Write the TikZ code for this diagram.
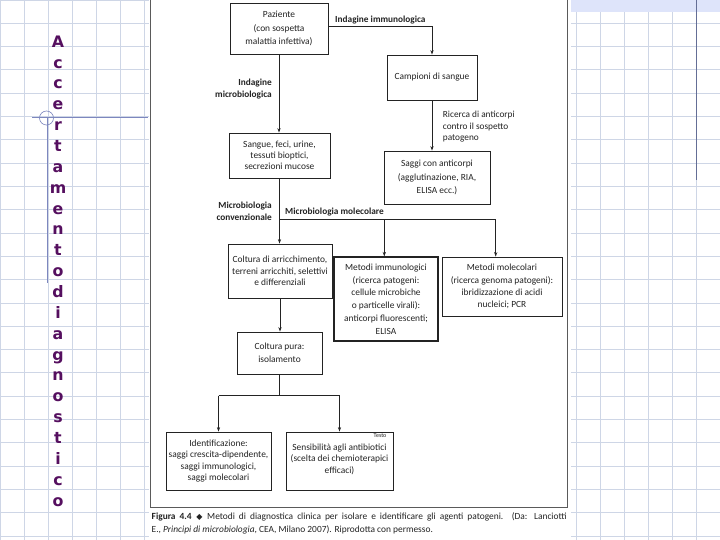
\documentclass[tikz,border=0pt]{standalone}
\usepackage{fontspec}
\setmainfont{Carlito}
\newfontfamily\dejavu{DejaVu Sans}
\usetikzlibrary{arrows.meta}
\definecolor{gridc}{RGB}{206,214,230}
\definecolor{deco}{RGB}{125,135,190}
\definecolor{decodark}{RGB}{100,110,150}
\definecolor{band}{RGB}{222,228,250}
\definecolor{purp}{RGB}{85,15,95}
\definecolor{ink}{RGB}{35,35,35}
\definecolor{framec}{RGB}{90,90,90}
\tikzset{
  box/.style={draw=ink, line width=0.8bp, align=center, inner sep=0pt, text=ink},
  lsp/.style={font=\fontsize{9.4bp}{#1}\selectfont},
  lbl/.style={inner sep=0pt, text=ink, font=\fontsize{9.3bp}{12bp}\selectfont\bfseries},
  lblr/.style={inner sep=0pt, text=ink, align=left, font=\fontsize{9.3bp}{11.7bp}\selectfont},
  conn/.style={draw=ink, line width=0.8bp},
  arr/.style={conn, -{Stealth[length=4.5bp,width=3.2bp]}},
  letter/.style={inner sep=0pt, anchor=base, text=purp, font=\dejavu\bfseries\fontsize{15.8bp}{16bp}\selectfont},
  captext/.style={inner sep=0pt, text=ink, font=\fontsize{9.4bp}{11bp}\selectfont}
}
\begin{document}
\begin{tikzpicture}[x=1bp,y=-1bp]
\useasboundingbox (0,0) rectangle (720,540);
\fill[white] (0,0) rectangle (720,540);
% graph paper
\foreach \i in {0,...,30} \draw[gridc, line width=0.8bp] (\i*24,0) -- (\i*24,540);
\foreach \j in {0,...,23} \draw[gridc, line width=0.8bp] (0,\j*23.3) -- (720,\j*23.3);
% top right band and line
\fill[band] (571,0) rectangle (720,12);
\draw[decodark, line width=0.8bp] (696.7,0) -- (696.7,180);
% figure area
\fill[white] (149,0) rectangle (571,540);
\draw[framec, line width=0.9bp] (150,0) -- (150,507) -- (567,507) -- (567,0);
% left decoration
\draw[deco, line width=0.8bp] (32,117.5) -- (148,117.5);
\draw[deco, line width=0.8bp] (47,117.5) -- (47,283);
\draw[deco, line width=0.6bp] (46.5,118) circle[radius=7];
% vertical title
\foreach \l [count=\k from 0] in {A,c,c,e,r,t,a,m,e,n,t,o,d,i,a,g,n,o,s,t,i,c,o}
  \node[letter] (L\k) at (58,47.3+\k*20.85) {\l};

% boxes
\node[box, lsp=13.5bp, minimum width=98bp, minimum height=51bp] (paz) at (279,28.5) {Paziente\\(con sospetta\\malattia infettiva)};
\node[box, lsp=12bp, minimum width=90bp, minimum height=45bp] (camp) at (432,77.5) {Campioni di sangue};
\node[box, lsp=10.8bp, minimum width=101bp, minimum height=45bp] (sang) at (279.5,155.5) {Sangue, feci, urine,\\tessuti bioptici,\\secrezioni mucose};
\node[box, lsp=13.2bp, minimum width=106bp, minimum height=53bp] (sagg) at (437,177.5) {Saggi con anticorpi\\(agglutinazione, RIA,\\ELISA ecc.)};
\node[box, lsp=11.5bp, minimum width=104bp, minimum height=54bp] (colt) at (280,271) {Coltura di arricchimento,\\terreni arricchiti, selettivi\\e differenziali};
\node[box, lsp=12.8bp, line width=1.2bp, minimum width=104bp, minimum height=84bp] (mimm) at (386,299) {Metodi immunologici\\(ricerca patogeni:\\cellule microbiche\\o particelle virali):\\anticorpi fluorescenti;\\ELISA};
\node[box, lsp=12.2bp, minimum width=120bp, minimum height=59bp] (mmol) at (502,286.5) {Metodi molecolari\\(ricerca genoma patogeni):\\ibridizzazione di acidi\\nucleici; PCR};
\node[box, lsp=13bp, minimum width=85bp, minimum height=42bp] (pura) at (279.5,353) {Coltura pura:\\isolamento};
\node[box, lsp=11.4bp, minimum width=105bp, minimum height=58bp] (iden) at (218.5,461) {Identificazione:\\saggi crescita-dipendente,\\saggi immunologici,\\saggi molecolari};
\node[box, lsp=11.7bp, minimum width=107bp, minimum height=58bp, text depth=5bp] (sens) at (339.5,461) {Sensibilità agli antibiotici\\(scelta dei chemioterapici\\efficaci)};
\node[inner sep=0pt, text=ink, font=\fontsize{6bp}{7bp}\selectfont] (testo) at (380,435.5) {Testo};

% labels
\node[lbl, anchor=west] (limm) at (335,20) {Indagine immunologica};
\node[lbl, anchor=east, align=right] (lmic) at (272,89) {Indagine\\microbiologica};
\node[lblr, anchor=west] (lric) at (442.7,126.7) {Ricerca di anticorpi\\contro il sospetto\\patogeno};
\node[lbl, anchor=east, align=right] (lconv) at (272,211.3) {Microbiologia\\convenzionale};
\node[lbl, anchor=west] (lmol) at (285,212.3) {Microbiologia molecolare};

% connectors
\draw[arr] ([yshift=2.5bp]paz.east) -| (camp.north);
\draw[arr] (paz.south) -- (paz.south |- sang.north);
\draw[arr] (camp.south) -- (camp.south |- sagg.north);
\coordinate (j1) at (279.5,219.3);
\coordinate (j2) at (384.3,219.3);
\coordinate (j3) at (495.7,219.3);
\draw[conn] (sang.south) -- (j1) -- (j3);
\draw[arr] (j1) -- (j1 |- colt.north);
\draw[arr] (j2) -- (j2 |- mimm.north);
\draw[arr] (j3) -- (j3 |- mmol.north);
\draw[arr] (colt.south) -- (colt.south |- pura.north);
\coordinate (k0) at (279.5,395.7);
\coordinate (k1) at (218.5,395.7);
\coordinate (k2) at (339.5,395.7);
\draw[conn] (pura.south) -- (k0);
\draw[conn] (k1) -- (k2);
\draw[arr] (k1) -- (iden.north);
\draw[arr] (k2) -- (sens.north);

% caption
\node[captext, anchor=base west] (cap1) at (151.5,519.5) {\makebox[415bp][s]{\textbf{Figura 4.4}\enspace{\dejavu\fontsize{8bp}{8bp}\selectfont ◆}\enspace Metodi di diagnostica clinica per isolare e identificare gli agenti patogeni. (Da: Lanciotti}};
\node[captext, anchor=base west] (cap2) at (151.5,532) {E., \textit{Principi di microbiologia}, CEA, Milano 2007). Riprodotta con permesso.};
\end{tikzpicture}
\end{document}
